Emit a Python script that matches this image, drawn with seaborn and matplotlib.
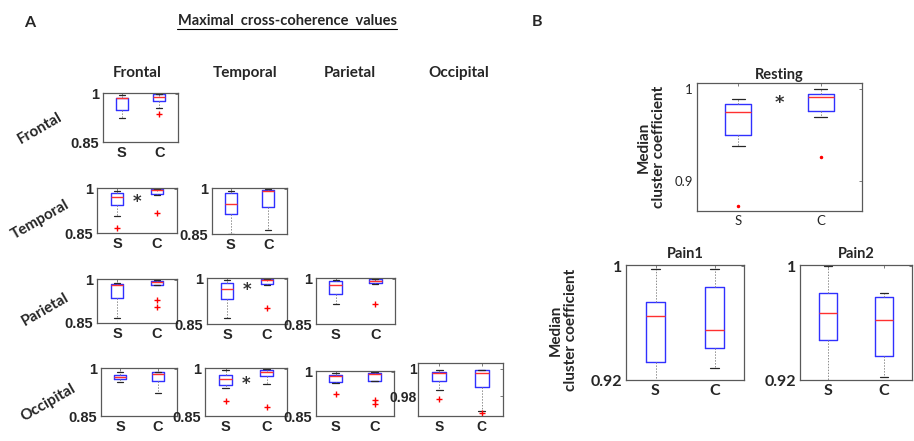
import numpy as np
import pandas as pd
import matplotlib
matplotlib.use("Agg")
import matplotlib.pyplot as plt
from matplotlib.lines import Line2D
import seaborn as sns

# each box: [low whisker, q1, median, q3, high whisker], outliers kept apart
groups = ["S", "C"]
regions = ["Frontal", "Temporal", "Parietal", "Occipital"]

frontal_frontal_S = [0.925, 0.95, 0.985, 0.987, 0.995]
frontal_frontal_C = [0.957, 0.976, 0.99, 0.999, 1.0]
frontal_frontal_out = [[], [0.936]]

temporal_frontal_S = [0.907, 0.944, 0.970, 0.985, 0.992]
temporal_frontal_C = [0.980, 0.981, 0.9945, 0.997, 0.998]
temporal_frontal_out = [[0.866], [0.919]]

temporal_temporal_S = [0.85, 0.917, 0.949, 0.987, 0.991]
temporal_temporal_C = [0.8635, 0.94, 0.993, 0.997, 0.999]
temporal_temporal_out = [[], []]

parietal_frontal_S = [0.869, 0.937, 0.983, 0.984, 0.989]
parietal_frontal_C = [0.983, 0.983, 0.992, 0.995, 0.998]
parietal_frontal_out = [[], [0.93, 0.905]]

parietal_temporal_S = [0.871, 0.932, 0.967, 0.985, 0.997]
parietal_temporal_C = [0.980, 0.982, 0.995, 0.998, 1.0]
parietal_temporal_out = [[], [0.904]]

parietal_parietal_S = [0.915, 0.95, 0.9786, 0.993, 0.996]
parietal_parietal_C = [0.983, 0.984, 0.9925, 0.998, 0.999]
parietal_parietal_out = [[], [0.915]]

occipital_frontal_S = [0.957, 0.966, 0.974, 0.979, 0.989]
occipital_frontal_C = [0.924, 0.96, 0.984, 0.989, 0.99]
occipital_frontal_out = [[], []]

occipital_temporal_S = [0.939, 0.949, 0.968, 0.981, 0.997]
occipital_temporal_C = [0.952, 0.977, 0.988, 0.997, 0.998]
occipital_temporal_out = [[0.896], [0.878]]

occipital_parietal_S = [0.962, 0.964, 0.9856, 0.989, 0.9956]
occipital_parietal_C = [0.967, 0.967, 0.993, 0.9956, 0.997]
occipital_parietal_out = [[0.924], [0.9056, 0.89]]

occipital_occipital_S = [0.9845, 0.9912, 0.9971, 0.9976, 0.9988]
occipital_occipital_C = [0.9698, 0.9869, 0.9966, 0.9988, 0.9989]
occipital_occipital_out = [[0.9781], [0.9679]]

resting_S = [0.938, 0.95, 0.9753, 0.9837, 0.989]
resting_C = [0.969, 0.9764, 0.991, 0.9942, 1.0]
resting_out = [[0.8725], [0.9257]]

pain1_S = [0.918, 0.933, 0.9654, 0.9752, 0.998]
pain1_C = [0.9286, 0.9423, 0.9553, 0.9854, 0.998]
pain2_S = [0.918, 0.9485, 0.9673, 0.981, 1.0]
pain2_C = [0.922, 0.937, 0.962, 0.9782, 0.9814]
no_out = [[], []]

# significance stars (y value)
star_temporal_frontal = 0.956
star_parietal_temporal = 0.962
star_occipital_temporal = 0.951
star_resting = 0.985

W, H = 914, 441
fig = plt.figure(figsize=(W / 100, H / 100), dpi=100)
sns.set_style("white")
plt.rcParams["font.family"] = ["Liberation Sans Narrow", "Liberation Sans", "DejaVu Sans"]

narrow = ["Liberation Sans Narrow", "Liberation Sans", "DejaVu Sans"]
calibri = ["Lato", "DejaVu Sans"]


def samples(five, outliers):
    lo, q1, med, q3, hi = five
    return list(outliers) + [lo] + [q1] * 4 + [med] * 3 + [q3] * 4 + [hi]


def make_df(s_five, c_five, outs):
    rows = []
    for g, five, o in zip(groups, [s_five, c_five], outs):
        for v in samples(five, o):
            rows.append({"group": g, "value": v})
    return pd.DataFrame(rows)


def px_axes(l, t, r, b):
    return fig.add_axes([l / W, 1 - b / H, (r - l) / W, (b - t) / H])


def draw_box(ax, s_five, c_five, outs, marker="+", msize=4):
    df = make_df(s_five, c_five, outs)
    sns.boxplot(data=df, x="group", y="value", order=groups, ax=ax,
                width=0.32, fill=False, whis=1.5, color="#3030ff", linewidth=1.0,
                boxprops=dict(color="#3030ff"),
                medianprops=dict(color="#ff3030", linewidth=1.0),
                whiskerprops=dict(color="0.55", linestyle=(0, (1.5, 1.5)), linewidth=0.7),
                capprops=dict(color="0.15", linewidth=0.9),
                flierprops=dict(marker=marker, markeredgecolor="red", markerfacecolor="red",
                                markersize=msize, markeredgewidth=1.0))
    ax.set_xlabel("")
    ax.set_ylabel("")
    ax.set_xlim(-0.5, 1.5)
    for sp in ax.spines.values():
        sp.set_color("0.35")
        sp.set_linewidth(0.9)
    ax.tick_params(direction="in", length=2, width=0.6, top=True, right=True,
                   color="0.4", pad=3)


def tick_text(ax, size, family, weight):
    for lab in ax.get_xticklabels() + ax.get_yticklabels():
        lab.set_fontsize(size)
        lab.set_family(family)
        lab.set_fontweight(weight)


# ---- panel A ----
panel_a = [
    ((103, 93, 178, 142), frontal_frontal_S, frontal_frontal_C, frontal_frontal_out, None),
    ((97, 188, 177, 233), temporal_frontal_S, temporal_frontal_C, temporal_frontal_out, star_temporal_frontal),
    ((212, 188, 287, 234), temporal_temporal_S, temporal_temporal_C, temporal_temporal_out, None),
    ((97, 279, 177, 323), parietal_frontal_S, parietal_frontal_C, parietal_frontal_out, None),
    ((207, 278, 287, 324), parietal_temporal_S, parietal_temporal_C, parietal_temporal_out, star_parietal_temporal),
    ((316, 278, 395, 324), parietal_parietal_S, parietal_parietal_C, parietal_parietal_out, None),
    ((101, 368, 177, 416), occipital_frontal_S, occipital_frontal_C, occipital_frontal_out, None),
    ((205, 368, 287, 416), occipital_temporal_S, occipital_temporal_C, occipital_temporal_out, star_occipital_temporal),
    ((316, 371, 394, 416), occipital_parietal_S, occipital_parietal_C, occipital_parietal_out, None),
]

for pos, s5, c5, outs, star in panel_a:
    ax = px_axes(*pos)
    draw_box(ax, s5, c5, outs)
    ax.set_ylim(0.85, 1.002)
    ax.set_yticks([0.85, 1.0])
    ax.set_yticklabels(["0.85", "1"])
    tick_text(ax, 10.5, narrow, "bold")
    if star is not None:
        ax.text(0.5, star, "*", ha="center", va="center", fontsize=12,
                fontweight="bold", color="0.2", family="DejaVu Sans")

ax = px_axes(418, 363, 503, 416)
draw_box(ax, occipital_occipital_S, occipital_occipital_C, occipital_occipital_out)
ax.set_ylim(0.966, 1.004)
ax.set_yticks([0.98, 1.0])
ax.set_yticklabels(["0.98", "1"])
tick_text(ax, 10, narrow, "bold")
ax.tick_params(axis="y", pad=1)

# ---- panel B ----
ax = px_axes(697, 83, 862, 211)
draw_box(ax, resting_S, resting_C, resting_out, marker=".", msize=3)
ax.set_ylim(0.867, 1.0065)
ax.set_yticks([0.9, 1.0])
ax.set_yticklabels(["0.9", "1"])
tick_text(ax, 9.5, calibri, "normal")
ax.text(0.5, star_resting, "*", ha="center", va="center", fontsize=13,
        fontweight="bold", color="0.2", family="DejaVu Sans")
ax.set_title("Resting", fontsize=10.5, fontweight="bold", family=calibri, pad=3)

for pos, s5, c5, name in [((626, 265, 744, 380), pain1_S, pain1_C, "Pain1"),
                          ((800, 265, 912, 380), pain2_S, pain2_C, "Pain2")]:
    ax = px_axes(*pos)
    draw_box(ax, s5, c5, no_out)
    ax.set_ylim(0.92, 1.001)
    ax.set_yticks([0.92, 1.0])
    ax.set_yticklabels(["0.92", "1"])
    tick_text(ax, 11.5, calibri, "bold")
    ax.set_title(name, fontsize=10.5, fontweight="bold", family=calibri, pad=5)


def ftext(x, y, s, **kw):
    fig.text(x / W, 1 - y / H, s, **kw)


ftext(30, 23, "A", fontsize=11.5, fontweight="bold", family=calibri, ha="center", va="center")
ftext(537, 22, "B", fontsize=11.5, fontweight="bold", family=calibri, ha="center", va="center")
ftext(287, 21, "Maximal  cross-coherence  values", fontsize=10.5, fontweight="bold",
      family=calibri, ha="center", va="center")
fig.add_artist(Line2D([177 / W, 397 / W], [1 - 29 / H, 1 - 29 / H], color="black", lw=0.8))

for x, name in zip([137, 245, 350, 459], regions):
    ftext(x, 73, name, fontsize=11, fontweight="bold", family=calibri, ha="center", va="center")

for (x, y), name in zip([(40, 128), (40, 220), (45, 310), (48, 403)], regions):
    ftext(x, y, name, fontsize=11, fontweight="bold", family=calibri, ha="center",
          va="center", rotation=30)

ftext(651, 147, "Median\ncluster coefficient", fontsize=11, fontweight="bold",
      family=calibri, ha="center", va="center", rotation=90, linespacing=1.1)
ftext(563, 330, "Median\ncluster coefficient", fontsize=11, fontweight="bold",
      family=calibri, ha="center", va="center", rotation=90, linespacing=1.1)

fig.savefig("out.png", dpi=100)
